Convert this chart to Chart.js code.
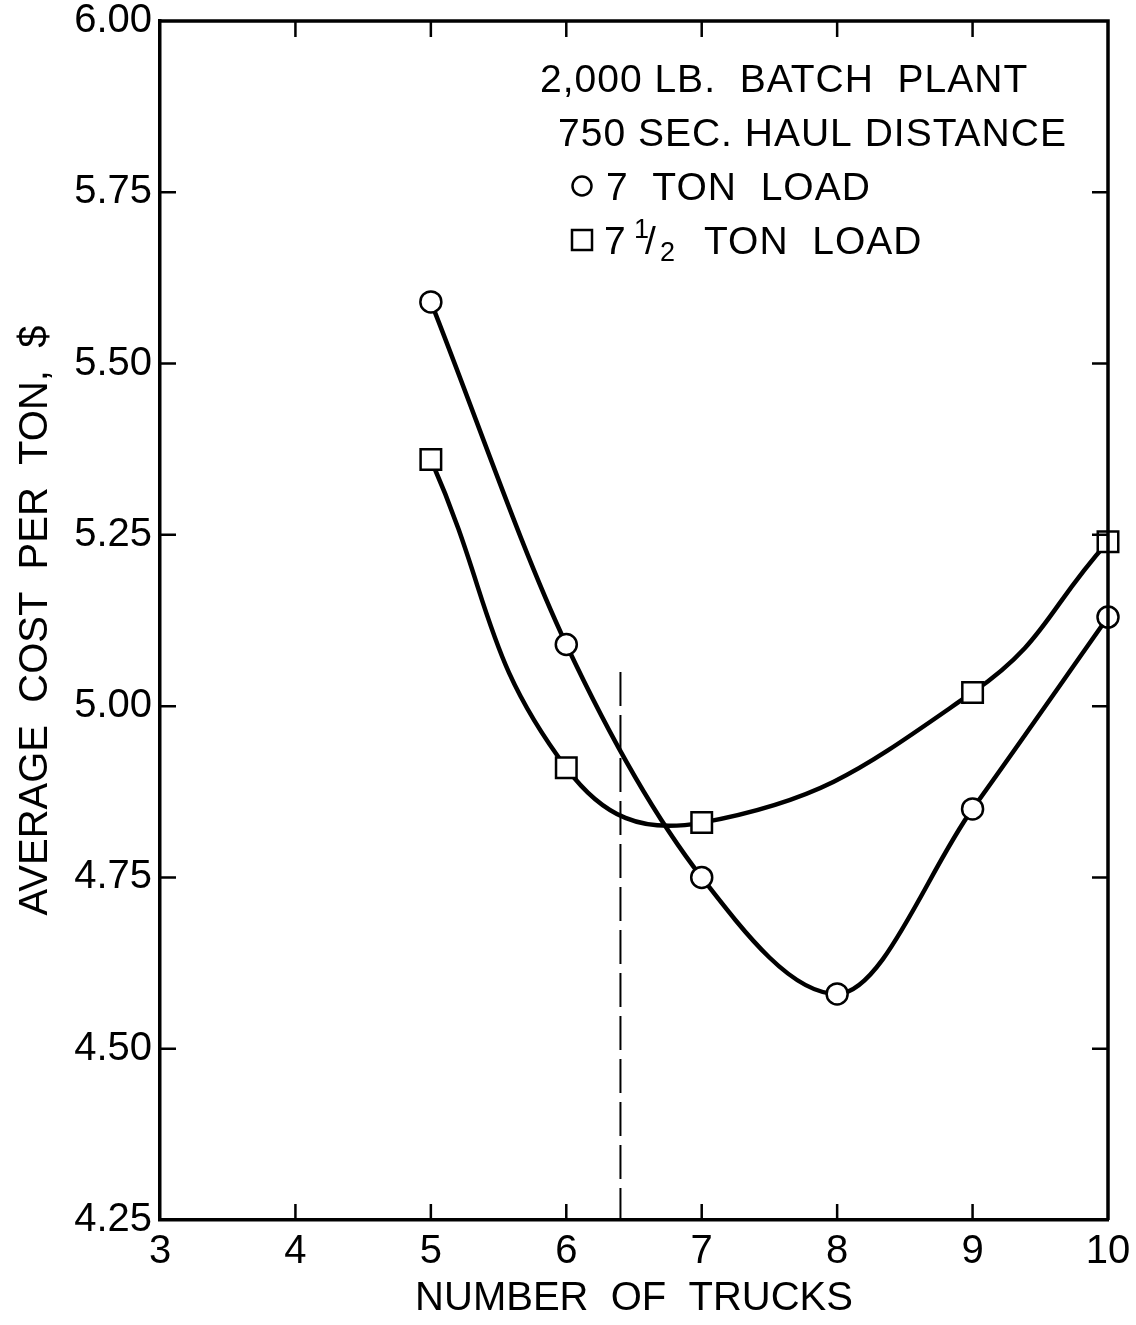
<!DOCTYPE html>
<html>
<head>
<meta charset="utf-8">
<script src="https://cdn.jsdelivr.net/npm/chart.js@4.4.1/dist/chart.umd.min.js"></script>
<style>
  html, body { margin: 0; padding: 0; background: #fff; }
  #wrap { width: 1136px; height: 1325px; position: relative; }
  canvas { display: block; }
</style>
</head>
<body>
<div id="wrap"><canvas id="c" width="1136" height="1325"></canvas></div>
<script>
// ---- data ----
const trucks = [5, 6, 7, 8, 9, 10];
const cost7Ton = [5.59, 5.09, 4.75, 4.58, 4.85, 5.13];
const cost7HalfTon = [5.36, 4.91, 4.83, null, 5.02, 5.24];
const markerX = [6.4, 6.4];
const markerY = [5.05, 4.25];
const xTickValues = [3, 4, 5, 6, 7, 8, 9, 10];
const yTickLabels = ['4.25', '4.50', '4.75', '5.00', '5.25', '5.50', '5.75', '6.00'];
const xTitle = 'NUMBER  OF  TRUCKS';
const yTitle = 'AVERAGE  COST  PER  TON,  $';
const noteLines = ['2,000 LB.  BATCH  PLANT', '750 SEC. HAUL DISTANCE'];
const series1Label = '7  TON  LOAD';
const series2Label = 'TON  LOAD';

const FONT = '"Liberation Sans", Arial, sans-serif';

function toPoints(xs, ys) {
  const out = [];
  xs.forEach((x, i) => { if (ys[i] !== null) out.push({ x: x, y: ys[i] }); });
  return out;
}

const frame = {
  id: 'frame',
  afterDatasetsDraw(chart) {
    const ctx = chart.ctx;
    const { left, right, top, bottom } = chart.chartArea;
    const xs = chart.scales.x, ys = chart.scales.y;
    ctx.save();
    ctx.strokeStyle = '#000';
    ctx.lineWidth = 3.5;
    ctx.beginPath();
    ctx.moveTo(left, top); ctx.lineTo(right, top); ctx.lineTo(right, bottom);
    ctx.stroke();
    ctx.lineWidth = 2.5;
    const L = 16;
    xs.ticks.forEach(t => {
      const px = xs.getPixelForValue(t.value);
      if (px <= left + 1 || px >= right - 1) return;
      ctx.beginPath();
      ctx.moveTo(px, bottom); ctx.lineTo(px, bottom - L);
      ctx.moveTo(px, top); ctx.lineTo(px, top + L);
      ctx.stroke();
    });
    ys.ticks.forEach(t => {
      const py = ys.getPixelForValue(t.value);
      if (py <= top + 1 || py >= bottom - 1) return;
      ctx.beginPath();
      ctx.moveTo(left, py); ctx.lineTo(left + L, py);
      ctx.moveTo(right, py); ctx.lineTo(right - L, py);
      ctx.stroke();
    });
    // note block
    ctx.fillStyle = '#000';
    ctx.textBaseline = 'alphabetic';
    ctx.textAlign = 'left';
    ctx.font = '39px ' + FONT;
    try { ctx.letterSpacing = '1px'; } catch (e) {}
    ctx.fillText(noteLines[0], 540, 92);
    ctx.fillText(noteLines[1], 558, 146);
    ctx.fillText(series1Label, 606, 200);
    // circle symbol
    ctx.lineWidth = 2.5;
    ctx.beginPath(); ctx.arc(582, 186, 9.5, 0, Math.PI * 2); ctx.stroke();
    // square symbol
    ctx.strokeRect(572, 230, 20, 20);
    // 7 1/2
    ctx.fillText('7', 604, 254);
    ctx.font = '27px ' + FONT;
    ctx.fillText('1', 634, 238);
    ctx.font = '39px ' + FONT;
    ctx.fillText('/', 645, 254);
    ctx.font = '27px ' + FONT;
    ctx.fillText('2', 660, 261);
    ctx.font = '39px ' + FONT;
    ctx.fillText(series2Label, 704, 254);
    ctx.restore();
  }
};

new Chart(document.getElementById('c'), {
  type: 'line',
  data: {
    datasets: [
      {
        label: 'marker',
        data: toPoints(markerX, markerY),
        borderColor: '#000',
        borderWidth: 2,
        borderDash: [34, 9],
        pointRadius: 0,
        tension: 0,
        clip: false,
        order: 3
      },
      {
        label: '7 TON LOAD',
        data: toPoints(trucks, cost7Ton),
        borderColor: '#000',
        borderWidth: 4.5,
        cubicInterpolationMode: 'monotone',
        pointStyle: 'circle',
        pointRadius: 10.5,
        pointBorderWidth: 2.5,
        pointBackgroundColor: '#fff',
        pointBorderColor: '#000',
        clip: false,
        order: 1
      },
      {
        label: '7 1/2 TON LOAD',
        data: toPoints(trucks, cost7HalfTon),
        borderColor: '#000',
        borderWidth: 4.5,
        tension: 0.45,
        spanGaps: true,
        pointStyle: 'rect',
        pointRadius: 14.5,
        pointBorderWidth: 2.5,
        pointBackgroundColor: '#fff',
        pointBorderColor: '#000',
        clip: false,
        order: 2
      }
    ]
  },
  options: {
    responsive: false,
    animation: false,
    devicePixelRatio: 1,
    layout: { padding: { top: 21, right: 28, left: 0, bottom: 0 } },
    plugins: { legend: { display: false }, tooltip: { enabled: false } },
    scales: {
      x: {
        type: 'linear',
        min: 3, max: 10,
        afterFit(s) { s.height = 105; s.paddingLeft = 0; s.paddingRight = 0; },
        afterBuildTicks(s) { s.ticks = xTickValues.map(v => ({ value: v })); },
        grid: { display: false, drawTicks: false },
        border: { display: true, color: '#000', width: 3.5 },
        ticks: {
          color: '#000', padding: 8,
          font: { family: FONT, size: 40 },
          maxRotation: 0, autoSkip: false,
          callback: v => String(v)
        },
        title: {
          display: true, text: xTitle, color: '#000',
          font: { family: FONT, size: 40 },
          padding: { top: 0, bottom: 2 }
        }
      },
      y: {
        type: 'linear',
        min: 4.25, max: 6,
        afterFit(s) { s.width = 160; s.paddingTop = 0; s.paddingBottom = 0; },
        afterBuildTicks(s) { s.ticks = yTickLabels.map(l => ({ value: parseFloat(l) })); },
        grid: { display: false, drawTicks: false },
        border: { display: true, color: '#000', width: 3.5 },
        ticks: {
          color: '#000', padding: 8,
          font: { family: FONT, size: 40 },
          autoSkip: false,
          callback: (v) => yTickLabels.find(l => Math.abs(parseFloat(l) - v) < 1e-6) || ''
        },
        title: {
          display: true, text: yTitle, color: '#000',
          font: { family: FONT, size: 40 },
          padding: { top: 12, bottom: 0 }
        }
      }
    }
  },
  plugins: [frame]
});
</script>
</body>
</html>
